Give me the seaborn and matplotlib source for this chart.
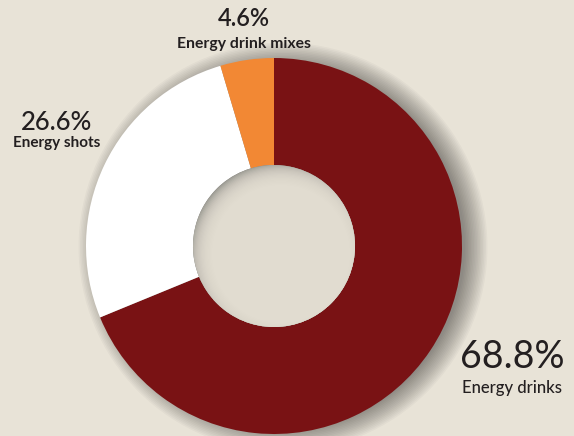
import matplotlib
matplotlib.use("Agg")
import matplotlib.pyplot as plt
from matplotlib.patches import Circle
import seaborn as sns

# Energy drink market share by segment
categories = ["Energy drinks", "Energy shots", "Energy drink mixes"]
shares = [68.8, 26.6, 4.6]
colors = ["#791214", "#ffffff", "#f28834"]

BG = "#e8e3d7"
INK = "#231f20"

sns.set_theme(style="white", rc={"figure.facecolor": BG, "axes.facecolor": BG})
palette = sns.color_palette(colors)
plt.rcParams["font.family"] = ["Lato", "DejaVu Sans"]

W, H = 574, 436
fig = plt.figure(figsize=(W / 100, H / 100), dpi=100)
ax = fig.add_axes([0, 0, 1, 1])

cx, cy = 274, H - 246
R, r_hole = 188, 81

# soft drop shadow, falling mostly to the right of the ring
for i in range(16):
    ax.add_patch(Circle((cx + 9, cy - 1), R - 6 + i * 1.5, color="black",
                        alpha=0.028, lw=0, zorder=1))

wedges, _ = ax.pie(shares, colors=palette, startangle=90, counterclock=False,
                   center=(cx, cy), radius=R,
                   wedgeprops=dict(width=R - r_hole, linewidth=0))
for w in wedges:
    w.set_zorder(2)

# hole with inner shading on its upper-left rim
hole = Circle((cx, cy), r_hole, color="#8e8e87", lw=0, zorder=3)
ax.add_patch(hole)
for i in range(27):
    c = Circle((cx + 7, cy - 8), 92 - i * 1.2, color=BG, alpha=0.14,
               lw=0, zorder=4)
    ax.add_patch(c)
    c.set_clip_path(hole)

ax.set_xlim(0, W)
ax.set_ylim(0, H)
ax.set_aspect("equal")
ax.axis("off")

# labels: (x, y of value, value size, value weight, y of name, name size, name weight)
label_pos = {
    "Energy drinks": (512, H - 357, 27, "normal", H - 388, 12, "medium"),
    "Energy shots": (57, H - 123, 18.5, "medium", H - 143, 11, "bold"),
    "Energy drink mixes": (244, H - 19, 17, "semibold", H - 44, 11.3, "bold"),
}
for name, val in zip(categories, shares):
    x, y, fs, fw, y2, fs2, fw2 = label_pos[name]
    ax.text(x, y, f"{val}%", ha="center", va="center", fontsize=fs,
            fontweight=fw, color=INK, zorder=5)
    ax.text(x, y2, name, ha="center", va="center", fontsize=fs2,
            fontweight=fw2, color=INK, zorder=5)

fig.savefig("out.png", dpi=100, facecolor=BG)
